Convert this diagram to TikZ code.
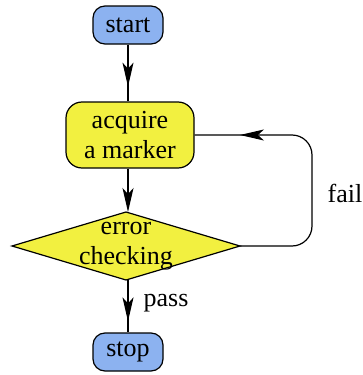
\documentclass[tikz,border=0pt]{standalone}
\usepackage{fontspec}
\setmainfont{Liberation Serif}
\usetikzlibrary{shapes.geometric,arrows.meta,decorations.markings}

\definecolor{termblue}{RGB}{140,178,240}
\definecolor{stepyellow}{RGB}{242,240,64}

\begin{document}
\begin{tikzpicture}[x=0.5pt, y=-0.5pt, >={Stealth[length=12pt,width=5.5pt,inset=3pt]},
  every node/.style={font=\rmfamily\fontsize{13}{15}\selectfont},
  term/.style={draw, line width=0.6pt, fill=termblue, rounded corners=6pt, minimum width=35pt, minimum height=19pt, inner sep=0pt},
  stepbox/.style={draw, line width=0.6pt, fill=stepyellow, rounded corners=8pt, minimum width=64pt, minimum height=33pt, inner sep=0pt, align=center},
  test/.style={draw, line width=0.6pt, fill=stepyellow, diamond, aspect=3.35, minimum width=114pt, minimum height=34pt, inner sep=0pt, outer sep=0pt},
  link/.style={line width=0.6pt},
  arrowat/.style={postaction={decorate}, decoration={markings, mark=at position #1 with {\arrow{>}}}}]

  \useasboundingbox (0,0) rectangle (363,375);

  % Terminal nodes
  \node [term] (start) at (128,25) {start};
  \node [term] (stop) at (128,352) {stop};

  % Process and decision
  \node [stepbox] (acquire) at (130,135) {acquire\\a marker};
  \node [test] (check) at (126,246) {};
  \node [align=center, inner sep=0pt] (checktext) at (check) {error\\checking};

  % Return point of the loop
  \coordinate (loop) at (312,190);

  % Labels
  \node (fail) at (345,193) {fail};
  \node (pass) at (166,303) {pass};

  % Connections
  \draw [link, arrowat=0.74] (start.south) -- (start.south |- acquire.north);
  \draw [link, ->] (start.south |- acquire.south) -- (start.south |- check.north);
  \draw [link, arrowat=0.79] (start.south |- check.south) -- (stop.north);
  \draw [link, rounded corners=10pt, arrowat=0.84] (check.east) -| (loop) |- (acquire.east);

\end{tikzpicture}
\end{document}
